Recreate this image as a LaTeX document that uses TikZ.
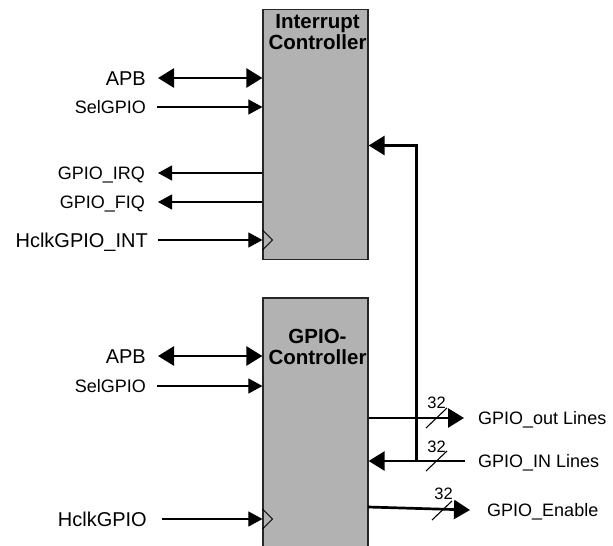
\documentclass[tikz,border=0pt]{standalone}
\usepackage{fontspec}
\setmainfont{Liberation Sans}
\usetikzlibrary{arrows.meta}

\tikzset{
  block/.style={draw=black!85, line width=1.2pt, fill=black!30, minimum width=105pt, inner sep=0pt},
  blocktitle/.style={font=\fontsize{20.5}{21}\selectfont\bfseries, align=center, inner sep=0pt, anchor=north},
  sig/.style={line width=1.1pt, -{Triangle[length=14pt,width=15pt]}},
  bus/.style={line width=2.7pt, -{Triangle[length=16pt,width=19pt]}},
  busboth/.style={line width=2.7pt, {Triangle[length=16pt,width=19pt]}-{Triangle[length=16pt,width=19pt]}},
  clk/.style={line width=0.9pt},
  slash/.style={line width=1.1pt}
}

\begin{document}
\begin{tikzpicture}[x=1pt, y=-1pt]

   \useasboundingbox (0,0) rectangle (613,546);
   \clip (0,0) rectangle (613,546);

   \node[block, minimum height=250pt] (intc) at (315.5,134.5) {};
   \node[block, minimum height=262pt] (gpioc) at (315.5,429) {};
   \node[blocktitle] (intctitle) at ([xshift=2pt,yshift=-5pt]intc.north) {Interrupt\\Controller};
   \node[blocktitle] (gpioctitle) at ([xshift=2pt,yshift=-32pt]gpioc.north) {GPIO-\\Controller};

   \begin{scope}[every node/.style={anchor=east, inner sep=0pt, text height=14pt, text depth=0pt, font=\fontsize{20}{20}\selectfont}]
    \node (apbA) at (146,78) {APB};
    \node (hclkA) at (148,240) {HclkGPIO\_INT};
    \node (apbB) at (146,356) {APB};
    \node (hclkB) at (147,519) {HclkGPIO};
   \end{scope}
   \begin{scope}[every node/.style={anchor=east, inner sep=0pt, text height=13pt, text depth=0pt, font=\fontsize{18}{18}\selectfont}]
    \node (selA) at (146,107) {SelGPIO};
    \node (irq) at (145,173) {GPIO\_IRQ};
    \node (fiq) at (145,202) {GPIO\_FIQ};
    \node (selB) at (146,386) {SelGPIO};
   \end{scope}
   \begin{scope}[every node/.style={anchor=west, inner sep=0pt, text height=13pt, text depth=0pt, font=\fontsize{18}{18}\selectfont}]
    \node (outl) at (478,418) {GPIO\_out Lines};
    \node (inl) at (478,461) {GPIO\_IN Lines};
    \node (enl) at (487,510) {GPIO\_Enable};
   \end{scope}
   \begin{scope}[every node/.style={inner sep=0pt, font=\fontsize{16.5}{16.5}\selectfont}]
    \node (wout) at (436.5,402.5) {32};
    \node (win) at (436.5,447) {32};
    \node (wen) at (443.5,493.5) {32};
   \end{scope}

   \coordinate (clkA) at (hclkA -| intc.west);
   \coordinate (clkB) at (hclkB -| gpioc.west);
   \coordinate (jn) at (416.5,461);
   \coordinate (fb) at (416.5,145.5);
   \coordinate (ens) at (368,507);

\draw[busboth] ([xshift=12pt]apbA.east) -- (apbA -| intc.west);
\draw[sig] ([xshift=11pt]selA.east) -- (selA -| intc.west);
\draw[sig] (irq -| intc.west) -- ([xshift=13pt]irq.east);
\draw[sig] (fiq -| intc.west) -- ([xshift=13pt]fiq.east);
\draw[sig] ([xshift=10pt]hclkA.east) -- (clkA);
\draw[clk] ([yshift=-10pt]clkA) -- ++(10,-10) -- ++(-10,-10);

\draw[busboth] ([xshift=12pt]apbB.east) -- (apbB -| gpioc.west);
\draw[sig] ([xshift=11pt]selB.east) -- (selB -| gpioc.west);
\draw[sig] ([xshift=15pt]hclkB.east) -- (clkB);
\draw[clk] ([yshift=-10pt]clkB) -- ++(10,-10) -- ++(-10,-10);

\draw[bus] (jn) -- (fb) -- (fb -| intc.east);
\draw[bus] (outl -| gpioc.east) -- ([xshift=-14pt]outl.west);
\draw[bus] ([xshift=-13pt]inl.west) -- (inl -| gpioc.east);
\draw[bus] (ens) -- ([xshift=-17pt]enl.west);

\draw[slash] (426,428) -- (447,408);
\draw[slash] (426,471) -- (447,451);
\draw[slash] (432,520) -- (452,501);
\end{tikzpicture}
\end{document}
